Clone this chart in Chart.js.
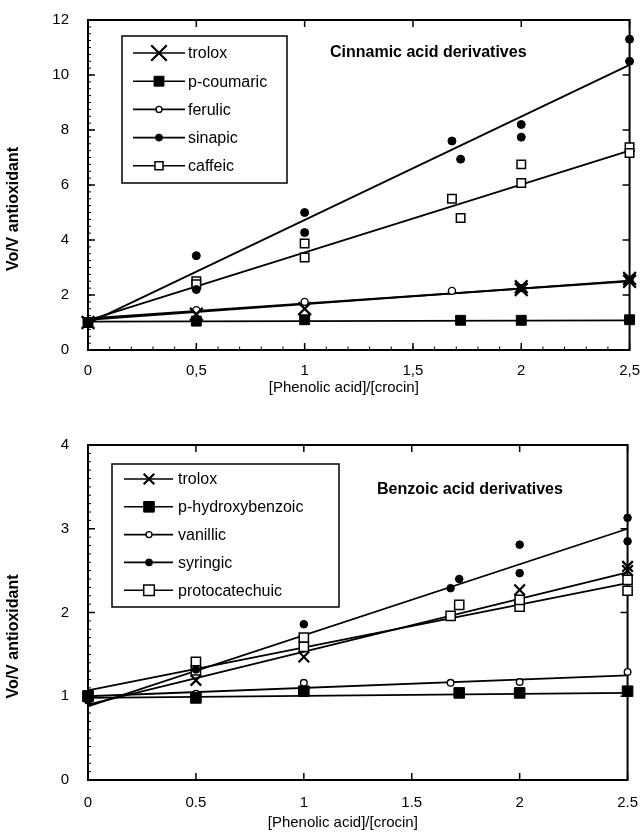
<!DOCTYPE html>
<html>
<head>
<meta charset="utf-8">
<script src="https://cdn.jsdelivr.net/npm/chart.js@4.4.1/dist/chart.umd.min.js"></script>
<style>
  body { margin: 0; background: #fff; }
  .box { position: absolute; left: 0; width: 644px; height: 416px; }
</style>
</head>
<body>
<div class="box" style="top:0"><canvas id="top"></canvas></div>
<div class="box" style="top:416px"><canvas id="bottom"></canvas></div>
<script>
"use strict";

// ---- data ----
// cinnamic acid derivatives (upper panel)
const troloxA     = [[0, 1.0], [0.5, 1.3], [1, 1.5], [2, 2.3], [2, 2.2], [2.5, 2.6], [2.5, 2.5]];
const coumaric    = [[0, 1.0], [0.5, 1.05], [1, 1.1], [1.72, 1.08], [2, 1.08], [2.5, 1.1]];
const ferulic     = [[0, 1.0], [0.5, 1.45], [1, 1.75], [1.68, 2.15], [2, 2.25], [2.5, 2.55]];
const sinapic     = [[0, 1.0], [0.5, 3.43], [0.5, 2.2], [1, 5.0], [1, 4.27], [1.68, 7.6], [1.72, 6.94],
                     [2, 8.2], [2, 7.74], [2.5, 11.3], [2.5, 10.5]];
const caffeic     = [[0, 1.0], [0.5, 2.5], [0.5, 2.39], [1, 3.87], [1, 3.36], [1.68, 5.5], [1.72, 4.8],
                     [2, 6.75], [2, 6.07], [2.5, 7.37], [2.5, 7.16]];
// fitted lines: value at x=0 and at x=2.5
const troloxAFit  = [1.1, 2.52];
const coumaricFit = [1.03, 1.08];
const ferulicFit  = [1.15, 2.5];
const sinapicFit  = [0.97, 10.37];
const caffeicFit  = [1.08, 7.25];

// benzoic acid derivatives (lower panel)
const troloxB     = [[0, 1.0], [0.5, 1.19], [1, 1.47], [2, 2.27], [2.5, 2.55], [2.5, 2.5]];
const hydroxy     = [[0, 1.0], [0.5, 0.98], [1, 1.06], [1.72, 1.04], [2, 1.04], [2.5, 1.06]];
const vanillic    = [[0, 1.0], [0.5, 1.03], [1, 1.16], [1.68, 1.16], [2, 1.17], [2.5, 1.29]];
const syringic    = [[0, 0.95], [0.5, 1.32], [1, 1.86], [1.68, 2.29], [1.72, 2.4], [2, 2.81], [2, 2.47],
                     [2.5, 3.13], [2.5, 2.85]];
const protocat    = [[0, 1.01], [0.5, 1.41], [0.5, 1.31], [1, 1.7], [1, 1.59], [1.68, 1.96], [1.72, 2.09],
                     [2, 2.07], [2, 2.15], [2.5, 2.39], [2.5, 2.26]];
const troloxBFit  = [0.9, 2.48];
const hydroxyFit  = [0.98, 1.04];
const vanillicFit = [1.0, 1.25];
const syringicFit = [0.88, 3.0];
const protocatFit = [1.07, 2.35];

const xTickLabelsTop    = ['0', '0,5', '1', '1,5', '2', '2,5'];
const xTickLabelsBottom = ['0', '0.5', '1', '1.5', '2', '2.5'];
const yTicksTop    = [0, 12, 2];
const yTicksBottom = [0, 4, 1];

const FONT = "'Liberation Sans', Arial, Helvetica, sans-serif";

function pts(arr) { return arr.map(p => ({x: p[0], y: p[1]})); }

function markerSet(label, arr, style, radius, fill, bw) {
    return {
        label: label,
        data: pts(arr),
        showLine: false,
        pointStyle: style,
        pointRadius: radius,
        pointHoverRadius: radius,
        pointBackgroundColor: fill,
        pointBorderColor: '#000',
        pointBorderWidth: bw,
        clip: false,
        legendEntry: true
    };
}

function fitSet(f) {
    return {
        data: [{x: 0, y: f[0]}, {x: 2.5, y: f[1]}],
        showLine: true,
        pointRadius: 0,
        borderColor: '#000',
        borderWidth: 1.8,
        clip: false
    };
}

// frame, inward ticks, legend box, titles
const paperPlugin = {
    id: 'paper',
    beforeDatasetsDraw(chart, args, o) {
        const ctx = chart.ctx, a = chart.chartArea;
        const xs = chart.scales.x, ys = chart.scales.y;
        ctx.save();
        ctx.strokeStyle = '#000';
        ctx.lineWidth = 2;
        ctx.strokeRect(a.left, a.top, a.right - a.left, a.bottom - a.top);
        ctx.lineWidth = 1.5;
        ctx.beginPath();
        xs.ticks.forEach(t => {
            const px = xs.getPixelForValue(t.value);
            ctx.moveTo(px, a.bottom); ctx.lineTo(px, a.bottom - 7);
            ctx.moveTo(px, a.top); ctx.lineTo(px, a.top + 7);
        });
        ys.ticks.forEach(t => {
            const py = ys.getPixelForValue(t.value);
            ctx.moveTo(a.left, py); ctx.lineTo(a.left + 7, py);
            ctx.moveTo(a.right, py); ctx.lineTo(a.right - 7, py);
        });
        ctx.stroke();
        ctx.lineWidth = 1;
        ctx.beginPath();
        if (o.minorX) {
            for (let v = xs.min; v <= xs.max + 1e-9; v += o.minorX) {
                const px = xs.getPixelForValue(v);
                ctx.moveTo(px, a.bottom); ctx.lineTo(px, a.bottom - 3.5);
            }
        }
        for (let v = ys.min; v <= ys.max + 1e-9; v += o.minorY) {
            const py = ys.getPixelForValue(v);
            ctx.moveTo(a.left, py); ctx.lineTo(a.left + 3, py);
        }
        ctx.stroke();

        // axis titles
        ctx.fillStyle = '#000';
        ctx.textAlign = 'center';
        ctx.textBaseline = 'middle';
        ctx.font = '15px ' + FONT;
        ctx.fillText(o.xTitle, (a.left + a.right) / 2 - 15, o.xTitleY);
        ctx.translate(14, (a.top + a.bottom) / 2 + 24);
        ctx.rotate(-Math.PI / 2);
        ctx.font = 'bold 16px ' + FONT;
        ctx.fillText(o.yTitle, 0, 0);
        ctx.restore();
    },
    afterDatasetsDraw(chart, args, o) {
        const ctx = chart.ctx;
        const b = o.box;
        ctx.save();
        ctx.fillStyle = '#fff';
        ctx.fillRect(b[0], b[1], b[2], b[3]);
        ctx.strokeStyle = '#000';
        ctx.lineWidth = 1.5;
        ctx.strokeRect(b[0], b[1], b[2], b[3]);

        const sets = chart.data.datasets.filter(d => d.legendEntry);
        ctx.font = '16px ' + FONT;
        ctx.textBaseline = 'middle';
        ctx.textAlign = 'left';
        sets.forEach((d, i) => {
            const y = o.rowY + i * o.rowStep;
            ctx.strokeStyle = '#000';
            ctx.lineWidth = 1.6;
            ctx.beginPath();
            ctx.moveTo(o.sample[0], y); ctx.lineTo(o.sample[1], y);
            ctx.stroke();
            ctx.fillStyle = d.pointBackgroundColor;
            ctx.lineWidth = d.pointBorderWidth;
            Chart.helpers.drawPoint(ctx, {
                pointStyle: d.pointStyle,
                radius: o.legendRadius[i],
                rotation: 0,
                borderWidth: d.pointBorderWidth
            }, o.sample[2], y);
            ctx.fillStyle = '#000';
            ctx.fillText(d.label, o.sample[3], y + 1);
        });

        ctx.font = 'bold 16px ' + FONT;
        ctx.fillText(o.note, o.noteXY[0], o.noteXY[1]);
        ctx.restore();
    }
};

function makeChart(id, sets, tickLabels, yt, plotTop, xAxisH, tickPad, paper) {
    return new Chart(document.getElementById(id), {
        type: 'scatter',
        data: {datasets: sets},
        options: {
            responsive: true,
            maintainAspectRatio: false,
            animation: false,
            events: [],
            layout: {padding: {top: plotTop, right: 13, bottom: 0, left: 0}},
            plugins: {legend: {display: false}, tooltip: {enabled: false}, paper: paper},
            scales: {
                x: {
                    type: 'linear', min: 0, max: 2.5,
                    grid: {display: false}, border: {display: false},
                    afterFit: s => { s.height = xAxisH; },
                    ticks: {
                        stepSize: 0.5, padding: tickPad, color: '#000', maxRotation: 0,
                        font: {family: FONT, size: 15},
                        callback: (v, i) => tickLabels[i]
                    }
                },
                y: {
                    type: 'linear', min: yt[0], max: yt[1],
                    grid: {display: false}, border: {display: false},
                    afterFit: s => { s.width = 88; },
                    ticks: {
                        stepSize: yt[2], padding: 11, color: '#000',
                        font: {family: FONT, size: 15}
                    }
                }
            }
        },
        plugins: [paperPlugin]
    });
}

makeChart('top', [
    markerSet('trolox', troloxA, 'crossRot', 9, '#000', 2.2),
    markerSet('p-coumaric', coumaric, 'rect', 7, '#000', 1),
    markerSet('ferulic', ferulic, 'circle', 3.5, '#fff', 1.4),
    markerSet('sinapic', sinapic, 'circle', 4, '#000', 1),
    markerSet('caffeic', caffeic, 'rect', 6, '#fff', 1.5),
    fitSet(troloxAFit), fitSet(coumaricFit), fitSet(ferulicFit), fitSet(sinapicFit), fitSet(caffeicFit)
], xTickLabelsTop, yTicksTop, 18, 66, 4, {
    minorX: 0.1, minorY: 0.25,
    xTitle: '[Phenolic acid]/[crocin]', xTitleY: 388,
    yTitle: 'Vo/V antioxidant',
    box: [122, 36, 165, 147],
    rowY: 53, rowStep: 28.2,
    sample: [133, 185, 159, 188],
    legendRadius: [11, 7, 3, 3.5, 5.7],
    note: 'Cinnamic acid derivatives', noteXY: [330, 53]
});

makeChart('bottom', [
    markerSet('trolox', troloxB, 'crossRot', 7.5, '#000', 2.2),
    markerSet('p-hydroxybenzoic', hydroxy, 'rect', 7.5, '#000', 1),
    markerSet('vanillic', vanillic, 'circle', 3.3, '#fff', 1.4),
    markerSet('syringic', syringic, 'circle', 3.8, '#000', 1),
    markerSet('protocatechuic', protocat, 'rect', 6.5, '#fff', 1.5),
    fitSet(troloxBFit), fitSet(hydroxyFit), fitSet(vanillicFit), fitSet(syringicFit), fitSet(protocatFit)
], xTickLabelsBottom, yTicksBottom, 29, 52, 6, {
    minorX: 0, minorY: 0.1,
    xTitle: '[Phenolic acid]/[crocin]', xTitleY: 407,
    yTitle: 'Vo/V antioxidant',
    box: [112, 48, 227, 143],
    rowY: 63, rowStep: 27.8,
    sample: [124, 173, 149, 178],
    legendRadius: [7.5, 7.5, 3, 3.5, 7.5],
    note: 'Benzoic acid derivatives', noteXY: [377, 74]
});
</script>
</body>
</html>
